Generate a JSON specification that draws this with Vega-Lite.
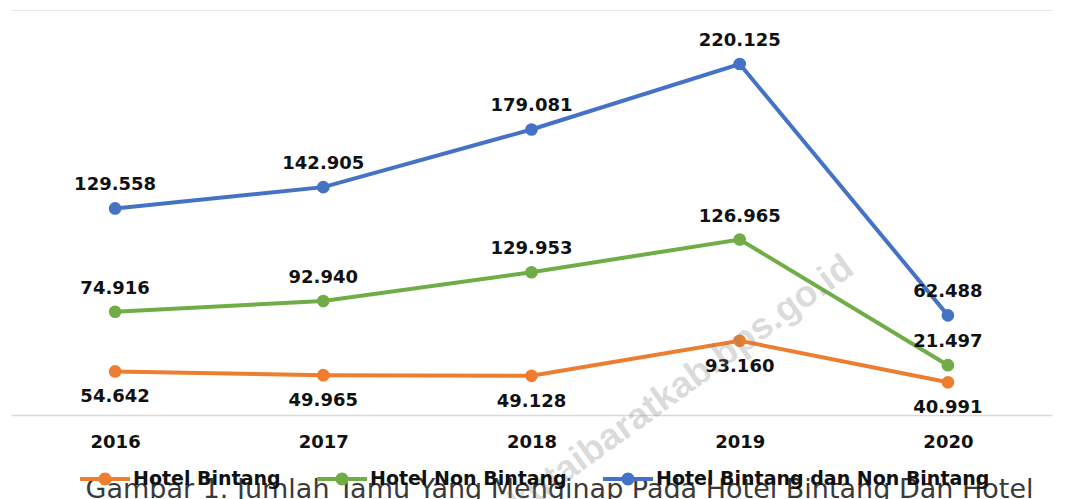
{
  "$schema": "https://vega.github.io/schema/vega-lite/v6.json",
  "autosize": {"type": "none"},
  "width": 1041,
  "height": 405,
  "padding": {"left": 11, "top": 10, "right": 19, "bottom": 84},
  "background": "white",
  "config": {
    "view": {"stroke": null},
    "locale": {"number": {"decimal": ",", "thousands": ".", "grouping": [3], "currency": ["Rp", ""]}}
  },
  "encoding": {
    "x": {
      "field": "tahun",
      "type": "nominal",
      "scale": {"paddingInner": 0, "paddingOuter": 0},
      "axis": {
        "title": null,
        "labelAngle": 0,
        "ticks": false,
        "domainColor": "#d9d9d9",
        "domainWidth": 1.5,
        "labelFont": "DejaVu Sans",
        "labelFontWeight": "bold",
        "labelFontSize": 18,
        "labelColor": "#111111",
        "labelBaseline": "middle",
        "labelPadding": 27
      }
    }
  },
  "layer": [
    {
      "data": {
        "values": [
          {"tahun": "2016", "seri": "Hotel Bintang", "urut": 1, "jumlah": 54642},
          {"tahun": "2017", "seri": "Hotel Bintang", "urut": 1, "jumlah": 49965},
          {"tahun": "2018", "seri": "Hotel Bintang", "urut": 1, "jumlah": 49128},
          {"tahun": "2019", "seri": "Hotel Bintang", "urut": 1, "jumlah": 93160},
          {"tahun": "2020", "seri": "Hotel Bintang", "urut": 1, "jumlah": 40991},
          {"tahun": "2016", "seri": "Hotel Non Bintang", "urut": 2, "jumlah": 74916},
          {"tahun": "2017", "seri": "Hotel Non Bintang", "urut": 2, "jumlah": 92940},
          {"tahun": "2018", "seri": "Hotel Non Bintang", "urut": 2, "jumlah": 129953},
          {"tahun": "2019", "seri": "Hotel Non Bintang", "urut": 2, "jumlah": 126965},
          {"tahun": "2020", "seri": "Hotel Non Bintang", "urut": 2, "jumlah": 21497},
          {"tahun": "2016", "seri": "Hotel Bintang dan Non Bintang", "urut": 3, "jumlah": 129558},
          {"tahun": "2017", "seri": "Hotel Bintang dan Non Bintang", "urut": 3, "jumlah": 142905},
          {"tahun": "2018", "seri": "Hotel Bintang dan Non Bintang", "urut": 3, "jumlah": 179081},
          {"tahun": "2019", "seri": "Hotel Bintang dan Non Bintang", "urut": 3, "jumlah": 220125},
          {"tahun": "2020", "seri": "Hotel Bintang dan Non Bintang", "urut": 3, "jumlah": 62488}
        ]
      },
      "transform": [
        {"stack": "jumlah", "groupby": ["tahun"], "sort": [{"field": "urut", "order": "ascending"}], "as": ["y0", "y1"]}
      ],
      "encoding": {
        "y": {
          "field": "y1",
          "type": "quantitative",
          "scale": {"domain": [0, 508000], "nice": false, "zero": true},
          "axis": {"title": null, "labels": false, "ticks": false, "domain": false, "grid": true, "values": [508000], "gridColor": "#e6e6e6", "gridWidth": 1}
        }
      },
      "layer": [
        {
          "mark": {"type": "line", "strokeWidth": 4, "point": {"filled": true, "size": 160}},
          "encoding": {
            "color": {
              "field": "seri",
              "type": "nominal",
              "scale": {
                "domain": ["Hotel Bintang", "Hotel Non Bintang", "Hotel Bintang dan Non Bintang"],
                "range": ["#ED7D31", "#70AD47", "#4472C4"]
              },
              "legend": {
                "title": null,
                "orient": "none",
                "direction": "horizontal",
                "legendX": 69,
                "legendY": 444,
                "padding": 0,
                "symbolType": "M-1,-0.08L1,-0.08L1,0.08L-1,0.08Z M0.26,0 A0.26,0.26 0 1,1 -0.26,0 A0.26,0.26 0 1,1 0.26,0 Z",
                "symbolSize": 2500,
                "symbolStrokeWidth": 0,
                "symbolOpacity": 1,
                "labelFont": "DejaVu Sans",
                "labelFontWeight": "bold",
                "labelFontSize": 19,
                "labelColor": "#111111",
                "labelOffset": 3,
                "columnPadding": 36,
                "labelLimit": 400,
                "encode": {
                  "symbols": {"update": {"fill": {"scale": "color", "field": "value"}, "fillOpacity": {"value": 1}}}
                }
              }
            },
            "order": {"field": "tahun"}
          }
        },
        {
          "transform": [{"filter": "datum.seri === 'Hotel Bintang'"}],
          "mark": {"type": "text", "font": "DejaVu Sans", "fontWeight": "bold", "fontSize": 18, "dy": 26, "baseline": "middle", "color": "#111111"},
          "encoding": {"text": {"field": "jumlah", "type": "quantitative", "format": ",d"}}
        },
        {
          "transform": [{"filter": "datum.seri !== 'Hotel Bintang'"}],
          "mark": {"type": "text", "font": "DejaVu Sans", "fontWeight": "bold", "fontSize": 18, "dy": -23, "baseline": "middle", "color": "#111111"},
          "encoding": {"text": {"field": "jumlah", "type": "quantitative", "format": ",d"}}
        }
      ]
    },
    {
      "data": {"values": [{"teks": "Gambar 1. Jumlah Tamu Yang Menginap Pada Hotel Bintang Dan Hotel", "tahun": "2018"}]},
      "mark": {"type": "text", "font": "DejaVu Sans", "fontSize": 27, "align": "center", "baseline": "alphabetic", "fill": "#3a3a3a", "dx": 28},
      "encoding": {
        "y": {
          "datum": -104000,
          "type": "quantitative",
          "axis": {"title": null, "labels": false, "ticks": false, "domain": false, "grid": true, "values": [508000], "gridColor": "#e6e6e6", "gridWidth": 1}
        },
        "text": {"field": "teks", "type": "nominal"}
      }
    },
    {
      "data": {"values": [{"teks": "kutaibaratkab.bps.go.id", "tahun": "2019"}]},
      "mark": {"type": "text", "font": "Liberation Sans", "fontWeight": "bold", "fontSize": 37, "angle": -36, "align": "center", "baseline": "middle", "fill": "#808080", "fillOpacity": 0.28, "dx": -72},
      "encoding": {
        "y": {
          "datum": 90000,
          "type": "quantitative",
          "axis": {"title": null, "labels": false, "ticks": false, "domain": false, "grid": true, "values": [508000], "gridColor": "#e6e6e6", "gridWidth": 1}
        },
        "text": {"field": "teks", "type": "nominal"}
      }
    }
  ]
}
